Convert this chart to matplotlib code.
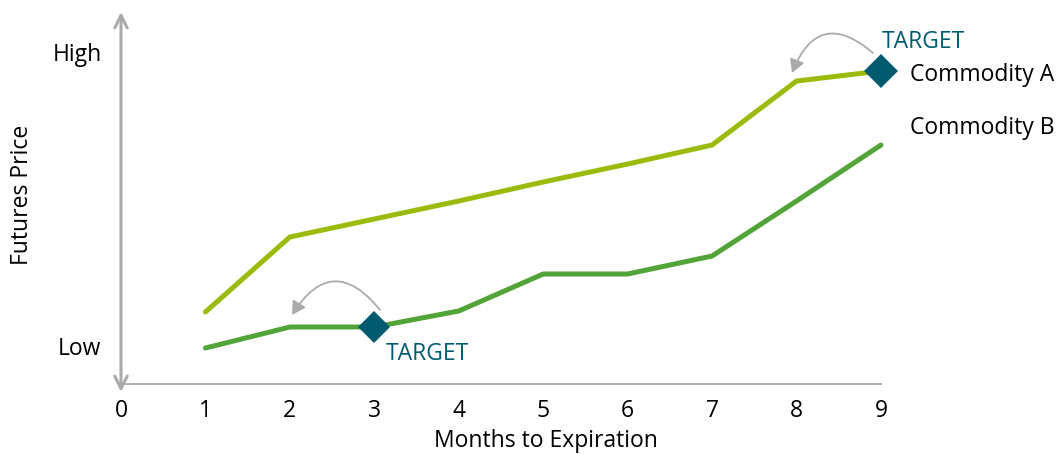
import matplotlib
matplotlib.use("Agg")
import matplotlib.pyplot as plt
from matplotlib.patches import FancyArrowPatch

months = [1, 2, 3, 4, 5, 6, 7, 8, 9]
commodity_a = [72, 147, 165, 183, 202, 220, 239, 303, 313]
commodity_b = [36, 57, 57, 73, 110, 110, 128, 183, 239]
x_ticks = [0, 1, 2, 3, 4, 5, 6, 7, 8, 9]
y_tick_vals = [38, 332]
y_tick_labels = ["Low", "High"]
target_a = (9, 313)
target_b = (3, 57)

plt.rcParams['font.family'] = ['Open Sans', 'DejaVu Sans']
FS = 16.5
COL_A = "#9bbb0c"
COL_B = "#52a338"
COL_T = "#005b70"
GRAY = "#aaaaaa"

fig = plt.figure(figsize=(10.61, 4.54), dpi=100)
ax = fig.add_axes([121/1061, 70/454, 760/1061, 372/454])
ax.set_xlim(0, 9)
ax.set_ylim(0, 372)
for s in ax.spines.values():
    s.set_visible(False)

ax.plot(months, commodity_a, color=COL_A, lw=3.6, solid_capstyle='round', solid_joinstyle='miter', clip_on=False, zorder=3)
ax.plot(months, commodity_b, color=COL_B, lw=3.6, solid_capstyle='round', solid_joinstyle='miter', clip_on=False, zorder=3)
ax.plot([target_a[0]], [target_a[1]], marker='D', ms=17, color=COL_T, clip_on=False, zorder=5, mew=0)
ax.plot([target_b[0]], [target_b[1]], marker='D', ms=16, color=COL_T, clip_on=False, zorder=5, mew=0)

# axes
ax.plot([0, 9], [0, 0], color=GRAY, lw=1.3, clip_on=False, zorder=1)
ax.annotate("", xy=(0, 372), xytext=(0, -8), annotation_clip=False,
            arrowprops=dict(arrowstyle='<->,head_length=0.9,head_width=0.45', color=GRAY, lw=2.2, shrinkA=0, shrinkB=0))

ax.set_xticks(x_ticks)
ax.set_xticklabels([str(v) for v in x_ticks], fontsize=FS)
ax.set_yticks(y_tick_vals)
ax.set_yticklabels(y_tick_labels, fontsize=FS)
ax.tick_params(axis='x', length=0, pad=11)
ax.tick_params(axis='y', length=0, pad=14)

fig.text(546/1061, 1 - 441/454, "Months to Expiration", ha='center', va='center', fontsize=FS)
fig.text(22/1061, 1 - 195/454, "Futures Price", ha='center', va='center', rotation=90, fontsize=FS)

ax.text(9.344, 309, "Commodity A", ha='left', va='center', fontsize=FS, clip_on=False)
ax.text(9.344, 256, "Commodity B", ha='left', va='center', fontsize=FS, clip_on=False)
ax.text(9.012, 342, "TARGET", ha='left', va='center', fontsize=FS, color=COL_T, clip_on=False)
ax.text(3.138, 30, "TARGET", ha='left', va='center', fontsize=FS, color=COL_T, clip_on=False)

for (p0, p1) in [((8.905, 331), (7.946, 311)), ((3.067, 74), (2.025, 69))]:
    arr = FancyArrowPatch(p0, p1, connectionstyle="arc3,rad=0.7",
                          arrowstyle='-|>,head_length=8,head_width=4.5', color=GRAY, lw=1.3,
                          shrinkA=0, shrinkB=0, clip_on=False, zorder=4)
    ax.add_patch(arr)

fig.savefig("out.png", dpi=100)
